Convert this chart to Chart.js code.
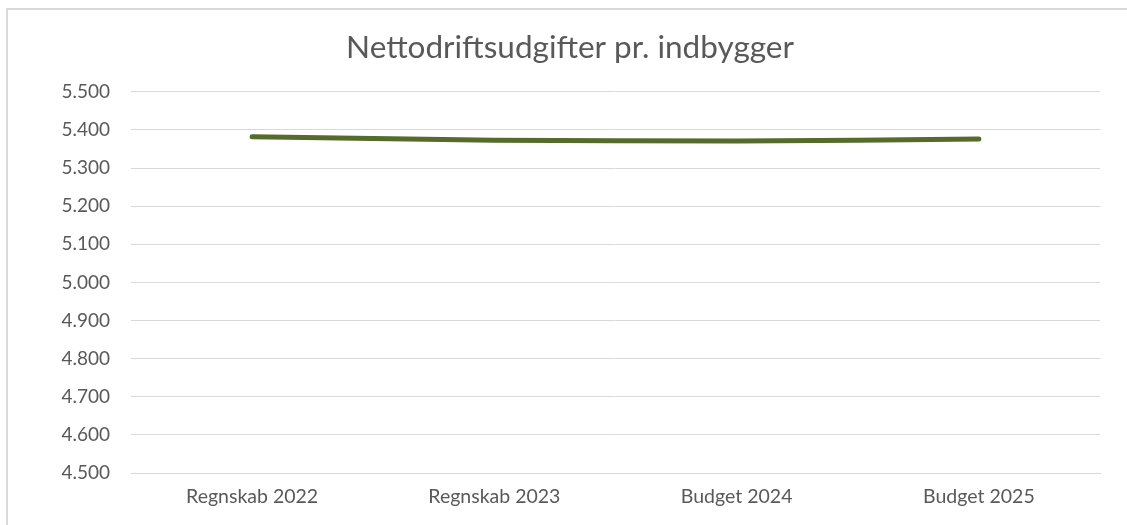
<!DOCTYPE html>
<html>
<head>
<meta charset="utf-8">
<script src="https://cdn.jsdelivr.net/npm/chart.js@4"></script>
<style>
    html, body { margin: 0; padding: 0; background: #ffffff; overflow: hidden; }
    .frame {
        position: absolute; left: 6px; top: 8px; width: 1200px; height: 600px;
        border-left: 2px solid #d9d9d9; border-top: 2px solid #d9d9d9;
    }
    .wrap { position: absolute; left: 0; top: 0; width: 1127px; height: 525px; }
</style>
</head>
<body>
<div class="frame"></div>
<div class="wrap"><canvas id="nettoChart" width="1127" height="525"></canvas></div>
<script>
// Chart data
const categories = ['Regnskab 2022', 'Regnskab 2023', 'Budget 2024', 'Budget 2025'];
const nettoValues = [5382, 5373, 5371, 5376];
const yTicks = [4500, 4600, 4700, 4800, 4900, 5000, 5100, 5200, 5300, 5400, 5500];

function formatDk(v) {
    return String(v).replace(/\B(?=(\d{3})+(?!\d))/g, '.');
}

document.addEventListener("DOMContentLoaded", function () {
    const canvas = document.getElementById('nettoChart');
    const ctx = canvas.getContext('2d');
    const textColor = '#595959';
    const gridColor = '#d9d9d9';

    new Chart(ctx, {
        type: 'line',
        data: {
            labels: categories,
            datasets: [{
                label: 'Nettodriftsudgifter pr. indbygger',
                data: nettoValues,
                borderColor: '#566a2b',
                borderWidth: 5,
                borderCapStyle: 'round',
                borderJoinStyle: 'round',
                tension: 0.25,
                pointRadius: 0,
                fill: false
            }]
        },
        options: {
            responsive: false,
            animation: false,
            devicePixelRatio: 1,
            layout: { padding: { left: 40, right: 27, top: 0, bottom: 0 } },
            plugins: {
                legend: { display: false },
                tooltip: { enabled: false },
                title: {
                    display: true,
                    text: 'Nettodriftsudgifter pr. indbygger',
                    color: textColor,
                    font: { family: 'Lato', size: 31.5, weight: 'normal' },
                    padding: { top: 29, bottom: 25 }
                }
            },
            scales: {
                x: {
                    offset: true,
                    grid: { display: false, drawTicks: false },
                    border: { display: true, color: gridColor, width: 1 },
                    ticks: {
                        color: textColor,
                        font: { family: 'Lato', size: 19.5 },
                        padding: 12,
                        maxRotation: 0
                    },
                    afterFit: function (scale) { scale.height = 52; }
                },
                y: {
                    min: 4500,
                    max: 5500,
                    grid: { color: gridColor, lineWidth: 1, drawTicks: false },
                    border: { display: false },
                    afterBuildTicks: function (scale) {
                        scale.ticks = yTicks.map(v => ({ value: v }));
                    },
                    ticks: {
                        color: textColor,
                        font: { family: 'Lato', size: 19 },
                        padding: 21,
                        callback: function (value) { return formatDk(value); }
                    },
                    afterFit: function (scale) { scale.width = 91; }
                }
            }
        }
    });
});
</script>
</body>
</html>
